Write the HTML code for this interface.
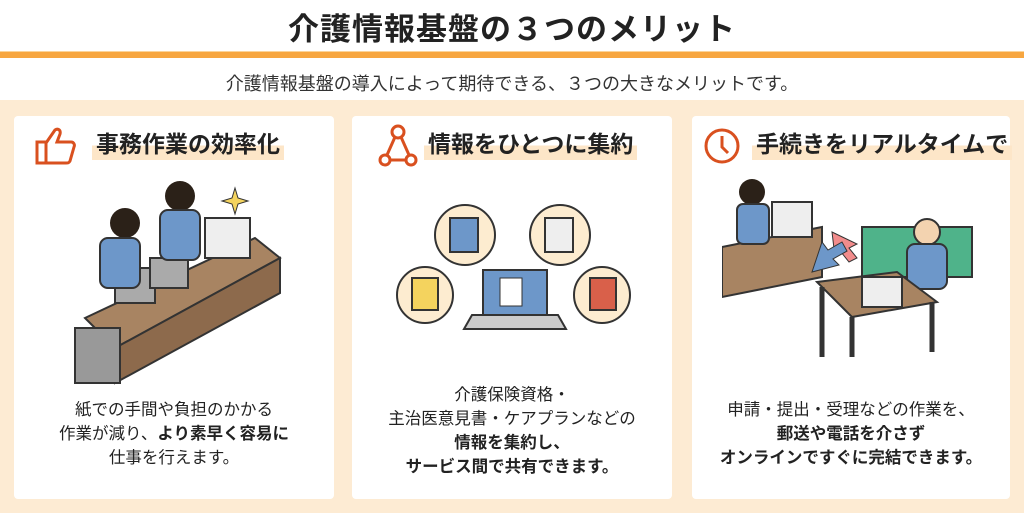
<!DOCTYPE html>
<html><head><meta charset="utf-8"><style>
*{margin:0;padding:0;box-sizing:border-box}
body{width:1024px;height:523px;background:#fff;font-family:"Liberation Sans","Noto Sans CJK JP",sans-serif;position:relative;overflow:hidden;color:#222}
.title{position:absolute;top:4px;left:0;width:1024px;text-align:center;font-size:31px;font-weight:bold;letter-spacing:1px}
.bar{position:absolute;top:51px;left:0;width:1024px;height:7px;background:#f7a640;border-top:1px solid #fbd49a}
.sub{position:absolute;top:70px;left:0;width:1024px;text-align:center;font-size:18px;color:#333}
.bg{position:absolute;top:100px;left:0;width:1024px;height:413px;background:#fdebd3}
.card{position:absolute;top:116px;width:320px;height:383px;background:#fff;border-radius:4px}
.h{position:absolute;top:128px;font-size:23px;font-weight:bold;padding:0 4px;background:linear-gradient(transparent 55%,#fde6c8 55%);line-height:32px}
.t{position:absolute;width:320px;text-align:center;font-size:16.5px;line-height:24px;color:#222}
b{font-weight:bold}
svg{position:absolute}
</style></head><body>
<div class="title">介護情報基盤の３つのメリット</div>
<div class="bar"></div>
<div class="sub">介護情報基盤の導入によって期待できる、３つの大きなメリットです。</div>
<div class="bg"></div>
<div class="card" style="left:14px"></div>
<div class="card" style="left:352px"></div>
<div class="card" style="left:692px;width:318px"></div>

<svg style="left:34px;top:126px" width="44" height="40" viewBox="0 0 44 40"><path d="M3 16h9v21H3zM12 17l9-13c3-2 6 0 5 4l-3 8h14c3 0 4 3 3 5l-4 14c-1 2-2 2-4 2H12" fill="none" stroke="#d9501f" stroke-width="3"/></svg>
<div class="h" style="left:92px">事務作業の効率化</div>
<svg style="left:378px;top:124px" width="40" height="44" viewBox="0 0 40 44"><g fill="none" stroke="#d9501f" stroke-width="3"><circle cx="20" cy="8" r="6"/><circle cx="7" cy="36" r="5"/><circle cx="33" cy="36" r="5"/><path d="M17 13 9 31M23 13l8 18M12 36h16"/></g></svg>
<div class="h" style="left:424px">情報をひとつに集約</div>
<svg style="left:702px;top:126px" width="40" height="40" viewBox="0 0 40 40"><g fill="none" stroke="#d9501f" stroke-width="3"><circle cx="20" cy="20" r="16"/><path d="M20 10v11l6 6"/></g></svg>
<div class="h" style="left:752px">手続きをリアルタイムで</div>

<!-- illustration 1 -->
<svg style="left:55px;top:178px" width="240" height="210" viewBox="0 0 240 210">
<path d="M30 140 200 60 225 80 60 170z" fill="#a88462" stroke="#333" stroke-width="2"/>
<path d="M60 170 225 80v35L60 205z" fill="#8d6a4c" stroke="#333" stroke-width="2"/>
<rect x="20" y="150" width="45" height="55" fill="#999" stroke="#333" stroke-width="2"/>
<rect x="60" y="90" width="40" height="35" fill="#aaa" stroke="#333" stroke-width="2"/>
<rect x="95" y="80" width="38" height="30" fill="#aaa" stroke="#333" stroke-width="2"/>
<rect x="150" y="40" width="45" height="40" fill="#eee" stroke="#333" stroke-width="2"/>
<circle cx="70" cy="45" r="15" fill="#2b2118"/><rect x="45" y="60" width="40" height="50" rx="8" fill="#6d97c9" stroke="#333" stroke-width="2"/>
<circle cx="125" cy="18" r="15" fill="#2b2118"/><rect x="105" y="32" width="40" height="50" rx="8" fill="#6d97c9" stroke="#333" stroke-width="2"/>
<path d="M180 10l3 10 10 3-10 3-3 10-3-10-10-3 10-3z" fill="#f4d35e" stroke="#333"/>
</svg>
<!-- illustration 2 -->
<svg style="left:390px;top:200px" width="250" height="135" viewBox="0 0 250 135">
<g fill="#fdecd0" stroke="#333" stroke-width="2"><circle cx="75" cy="35" r="30"/><circle cx="170" cy="35" r="30"/><circle cx="35" cy="95" r="28"/><circle cx="212" cy="95" r="28"/></g>
<rect x="60" y="18" width="28" height="34" fill="#6d97c9" stroke="#333" stroke-width="2"/>
<rect x="155" y="18" width="28" height="34" fill="#eee" stroke="#333" stroke-width="2"/>
<rect x="22" y="78" width="26" height="32" fill="#f4d35e" stroke="#333" stroke-width="2"/>
<rect x="200" y="78" width="26" height="32" fill="#d9604a" stroke="#333" stroke-width="2"/>
<rect x="93" y="70" width="64" height="45" fill="#6d97c9" stroke="#333" stroke-width="2"/>
<path d="M82 115h86l8 14H74z" fill="#ccc" stroke="#333" stroke-width="2"/>
<rect x="110" y="78" width="22" height="28" fill="#fff" stroke="#333"/>
</svg>
<!-- illustration 3 -->
<svg style="left:722px;top:172px" width="270" height="190" viewBox="0 0 270 190">
<path d="M0 75 100 55v50L0 125z" fill="#a88462" stroke="#333" stroke-width="2"/>
<rect x="50" y="30" width="40" height="35" fill="#eee" stroke="#333" stroke-width="2"/>
<circle cx="30" cy="20" r="13" fill="#2b2118"/><rect x="15" y="32" width="32" height="40" rx="6" fill="#6d97c9" stroke="#333" stroke-width="2"/>
<path d="M140 55h110v50H140z" fill="#4fb38a" stroke="#333" stroke-width="2"/>
<circle cx="205" cy="60" r="13" fill="#f3d3b0" stroke="#333" stroke-width="2"/><rect x="185" y="72" width="40" height="45" rx="8" fill="#6d97c9" stroke="#333" stroke-width="2"/>
<path d="M95 110 175 100 215 130 130 145z" fill="#a88462" stroke="#333" stroke-width="2"/>
<path d="M100 115v70M130 145v40M210 130v50" stroke="#333" stroke-width="5"/>
<rect x="140" y="105" width="40" height="30" fill="#eee" stroke="#333" stroke-width="2"/>
<path d="M110 60l25 12-8 4 8 10-8 4-8-10-6 5z" fill="#f28c8c" stroke="#333"/>
<path d="M90 100l10-30 6 8 14-8 5 9-14 8 6 6z" fill="#6d97c9" stroke="#333"/>
</svg>

<div class="t" style="left:14px;top:398px">紙での手間や負担のかかる<br>作業が減り、<b>より素早く容易に</b><br>仕事を行えます。</div>
<div class="t" style="left:352px;top:383px">介護保険資格・<br>主治医意見書・ケアプランなどの<br><b>情報を集約し、<br>サービス間で共有できます。</b></div>
<div class="t" style="left:692px;top:398px;width:318px">申請・提出・受理などの作業を、<br><b>郵送や電話を介さず<br>オンラインですぐに完結できます。</b></div>
</body></html>
